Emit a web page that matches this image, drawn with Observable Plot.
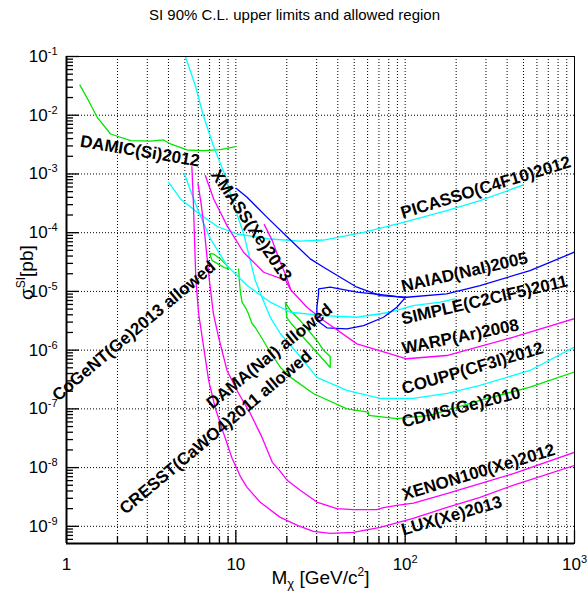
<!DOCTYPE html>
<html><head><meta charset="utf-8">
<script src="https://cdn.jsdelivr.net/npm/d3@7"></script>
<script src="https://cdn.jsdelivr.net/npm/@observablehq/plot@0.6"></script>
<style>body{margin:0;background:#fff;} #chart{width:588px;height:591px;}</style>
</head><body><div id="chart"></div>
<script>
// ---- data: [mass GeV/c^2, cross section pb] ----
const DAMIC = [[1.20,3.26e-2],[1.35,1.76e-2],[1.52,9.17e-3],[1.82,4.79e-3],[2.39,3.68e-3],[3.13,3.61e-3],[3.75,3.79e-3],[4.11,3.24e-3],[5.15,2.56e-3],[6.46,2.49e-3],[8.10,2.59e-3],[9.97,2.91e-3]];
const COUPP = [[5.04,9.9e-2],[5.77,3.18e-2],[6.43,9.8e-3],[7.37,3.03e-3],[8.56,1.01e-3],[9.67,3.12e-4],[11.07,1.0e-4],[12.18,3.35e-5],[13.03,1.53e-5],[14.28,7.86e-6],[16.0,3.59e-6],[18.3,1.92e-6],[24.0,7.8e-7],[30.1,3.43e-7],[45.3,2.06e-7],[71.2,1.51e-7],[111.5,1.51e-7],[177,1.83e-7],[277,2.51e-7],[546,4.51e-7],[1000,1.13e-6]];
const PICASSO = [[4.01,7.2e-4],[4.71,3.75e-4],[6.17,2.03e-4],[7.78,1.27e-4],[10.2,9.5e-5],[16.0,7.8e-5],[24.0,7.2e-5],[33.0,7.5e-5],[56.8,1.01e-4],[97.7,1.5e-4],[176,2.37e-4],[277,3.5e-4],[499,6.5e-4]];
const SIMPLE = [[4.97,1.01e-3],[5.54,4.27e-4],[6.17,1.95e-4],[7.07,7.9e-5],[8.87,2.75e-5],[11.65,1.26e-5],[16.0,6.55e-6],[21.0,4.42e-6],[33.0,3.88e-6],[51.9,3.63e-6],[81.6,4.42e-6],[111.5,5.75e-6],[161,6.55e-6],[197,7.47e-6]];
const NAIAD = [[10.03,5.7e-4],[11.65,4.0e-4],[15.3,1.82e-4],[20.0,8.6e-5],[27.5,3.58e-5],[33.0,2.58e-5],[51.9,1.18e-5],[71.2,8.5e-6],[102,7.96e-6],[176,9.1e-6],[277,1.26e-5],[546,2.26e-5],[1000,4.67e-5]];
const DAMA_REGION = [[30.8,1.105e-5],[36.1,1.18e-5],[51.9,9.7e-6],[81.6,8.5e-6],[100,7.77e-6],[89.3,5.37e-6],[74.5,3.63e-6],[56.8,2.62e-6],[45.3,2.31e-6],[34.5,2.40e-6],[30.1,3.19e-6],[30.1,5.37e-6],[30.8,9.1e-6],[30.8,1.105e-5]];
const COGENT_REGION = [[7.07,4.41e-5],[7.40,4.32e-5],[8.10,3.58e-5],[8.87,2.75e-5],[9.03,2.45e-5],[8.56,2.55e-5],[7.78,2.98e-5],[7.24,3.35e-5],[7.07,4.07e-5],[7.07,4.41e-5]];
const CDMS = [[10.39,2.42e-5],[10.49,1.53e-5],[10.63,9.94e-6],[10.88,6.55e-6],[11.38,5.37e-6],[11.85,4.2e-6],[12.46,2.84e-6],[13.03,2.43e-6],[14.28,1.58e-6],[16.0,9.12e-7],[18.3,5.13e-7],[21.0,3.47e-7],[28.8,1.81e-7],[45.3,1.0e-7],[60.8,8.8e-8],[60.8,7.73e-8],[89.3,6.8e-8],[140,7.73e-8],[277,1.39e-7],[546,2.34e-7],[1000,4.25e-7]];
const CRESST_REGION = [[19.6,6.46e-6],[21.0,4.72e-6],[24.0,3.19e-6],[26.3,2.33e-6],[30.1,1.46e-6],[33.0,9.9e-7],[36.1,7.8e-7],[36.1,5.07e-7],[30.1,9.1e-7],[25.1,1.64e-6],[21.5,2.73e-6],[20.0,3.59e-6],[19.6,6.46e-6]];
const WARP = [[6.61,9.35e-4],[7.40,3.75e-4],[8.87,1.32e-4],[11.1,4.64e-5],[14.6,2.12e-5],[18.3,1.67e-5],[19.6,1.59e-5],[21.0,1.08e-5],[26.3,5.37e-6],[33.0,3.19e-6],[51.9,1.28e-6],[81.6,8.67e-7],[102,7.13e-7],[176,8.1e-7],[436,1.66e-6],[1000,3.45e-6]];
const XMASS = [[14.73,1.37e-4],[16.42,7.33e-5],[18.3,3.13e-5],[19.86,1.79e-5],[21.0,1.12e-5]];
const LUX = [[5.50,1.33e-3],[5.61,3.51e-4],[5.73,4.95e-5],[5.81,1.53e-5],[6.03,4.2e-6],[6.46,1.11e-6],[6.91,3.05e-7],[7.57,1.02e-7],[8.47,3.82e-8],[9.50,1.44e-8],[10.63,7.1e-9],[11.65,4.61e-9],[13.95,2.56e-9],[18.3,1.42e-9],[23.1,1.04e-9],[28.7,8.2e-10],[36.1,7.6e-10],[49.4,7.9e-10],[71.2,9.6e-10],[111.5,1.37e-9],[177,2.1e-9],[277,3.11e-9],[433,4.99e-9],[1000,1.09e-8]];
const XENON100 = [[5.98,6.84e-4],[6.26,2.88e-4],[6.52,1.08e-4],[6.79,3.35e-5],[6.98,1.53e-5],[7.37,4.2e-6],[7.92,1.64e-6],[8.87,4.51e-7],[10.39,1.83e-7],[12.18,8.36e-8],[14.28,3.27e-8],[16.42,1.23e-8],[18.3,8.63e-9],[20.1,6.07e-9],[24.0,4.1e-9],[30.1,2.59e-9],[39.5,2.0e-9],[49.5,1.92e-9],[68.1,1.92e-9],[74.5,2.08e-9],[89.3,2.28e-9],[112,2.49e-9],[176,3.6e-9],[277,5.33e-9],[436,7.89e-9],[1000,1.82e-8]];

// labels: text and anchor (data coordinates)
const labelText = ["DAMIC(Si)2012","XMASS(Xe)2013","PICASSO(C4F10)2012","NAIAD(NaI)2005","SIMPLE(C2ClF5)2011","WARP(Ar)2008","COUPP(CF3I)2012","CDMS(Ge)2010","XENON100(Xe)2012","LUX(Xe)2013","CoGeNT(Ge)2013 allowed","DAMA(NaI) allowed","CRESST(CaWO4)2011 allowed"];
const labelMass = [2.715,12.34,299,224,294,212,250,214,271,188,2.50,15.8,7.6];
const labelSigma = [2.44e-3,1.32e-4,5.89e-4,2.12e-5,7.13e-6,1.70e-6,4.89e-7,1.06e-7,8.36e-9,1.51e-9,2.12e-6,7.9e-7,4.0e-8];
const labelAngle = [9.5,56,-17,-13,-13,-11.6,-16.4,-14.2,-16.7,-16,-40,-39,-40];

// axis ticks
const xMajor = [1,10,100,1000];
const xMinor = [2,3,4,5,6,7,8,9,20,30,40,50,60,70,80,90,200,300,400,500,600,700,800,900];
const yMajor = [1e-9,1e-8,1e-7,1e-6,1e-5,1e-4,1e-3,1e-2,1e-1];
const yMinor = [];
for (let e = -10; e <= -2; e++) for (let m = 2; m <= 9; m++) { const v = m * Math.pow(10, e); if (v > 5.1e-10 && v < 0.1) yMinor.push(v); }

// ---- styles ----
const GREEN = "#00e600", CYAN = "#00ffff", MAGENTA = "#ff00ff", BLUE = "#0000ff";
const curves = [
  [DAMIC, GREEN], [COGENT_REGION, GREEN], [CDMS, GREEN], [CRESST_REGION, GREEN],
  [PICASSO, CYAN], [SIMPLE, CYAN], [COUPP, CYAN],
  [NAIAD, BLUE], [DAMA_REGION, BLUE],
  [WARP, MAGENTA], [XMASS, MAGENTA], [LUX, MAGENTA], [XENON100, MAGENTA]
];

const W = 588, H = 591, ML = 66, MR = 14, MT = 56, MB = 48;
const FW = W - ML - MR, FH = H - MT - MB;
const FONT = "'Liberation Sans', Arial, Helvetica, sans-serif";
const XTITLE = "M\u03c7 [GeV/c2]";
const YTITLE = "\u03c3SI[pb]";

const fmtPow = d => { const e = Math.round(Math.log10(d)); return e === 0 ? "1" : e === 1 ? "10" : "10^" + e; };
const labels = labelText.map((t, i) => ({t, x: labelMass[i], y: labelSigma[i], a: labelAngle[i]}));

const svg = Plot.plot({
  width: W, height: H, marginLeft: ML, marginRight: MR, marginTop: MT, marginBottom: MB,
  style: {fontFamily: FONT, background: "white", color: "black", fontSize: "17px", overflow: "visible"},
  x: {type: "log", domain: [1, 1000], ticks: xMajor, tickFormat: fmtPow, tickSize: 0, tickPadding: 14, label: null},
  y: {type: "log", domain: [5.1e-10, 0.1], ticks: yMajor, tickFormat: fmtPow, tickSize: 0, tickPadding: 9, label: null},
  marks: [
    Plot.ruleX(xMinor.concat([10, 100]), {stroke: "#000", strokeWidth: 1, strokeDasharray: "1,2"}),
    Plot.ruleY(yMajor.slice(0, -1), {stroke: "#000", strokeWidth: 1, strokeDasharray: "1,2"}),
    ...curves.map(([pts, col]) => Plot.line(pts, {x: d => d[0], y: d => d[1], stroke: col, strokeWidth: 1.3, clip: true})),
    Plot.frame({stroke: "#000", strokeWidth: 1}),
    Plot.ruleX([1], {stroke: "#000", strokeWidth: 2}),
    Plot.ruleY([5.1e-10], {stroke: "#000", strokeWidth: 2}),
    Plot.ruleX(xMajor, {stroke: "#000", strokeWidth: 1.3, insetTop: FH - 13}),
    Plot.ruleX(xMinor, {stroke: "#000", strokeWidth: 1.3, insetTop: FH - 7}),
    Plot.ruleY(yMajor, {stroke: "#000", strokeWidth: 1.3, insetRight: FW - 13}),
    Plot.ruleY(yMinor, {stroke: "#000", strokeWidth: 1.3, insetRight: FW - 7}),
    Plot.text(labels, {x: "x", y: "y", text: "t", rotate: "a", fontSize: 17, fontWeight: "bold", fill: "#000", textAnchor: "middle", lineAnchor: "middle"}),
    Plot.text(["SI 90% C.L. upper limits and allowed region"], {frameAnchor: "top", dx: -26, dy: -37, lineAnchor: "bottom", fontSize: 15, fill: "#000"}),
    Plot.text([XTITLE], {frameAnchor: "bottom", dy: 40, lineAnchor: "bottom", fontSize: 19, fill: "#000"}),
    Plot.text([YTITLE], {frameAnchor: "left", dx: -34, rotate: -90, lineAnchor: "bottom", fontSize: 19, fill: "#000"})
  ]
});
document.getElementById("chart").appendChild(svg);

// rich text: superscripts / subscripts
function setRich(el, segs) {
  while (el.firstChild) el.removeChild(el.firstChild);
  let prev = 0;
  for (const s of segs) {
    const ts = document.createElementNS("http://www.w3.org/2000/svg", "tspan");
    if (s.fs) ts.setAttribute("font-size", s.fs);
    const dy = s.s - prev;
    if (dy !== 0) ts.setAttribute("dy", dy);
    prev = s.s;
    ts.textContent = s.t;
    el.appendChild(ts);
  }
}
svg.querySelectorAll("text").forEach(el => {
  const txt = el.textContent;
  const m = /^10\^(.+)$/.exec(txt);
  if (m) setRich(el, [{t: "10", s: 0}, {t: m[1], fs: 11, s: -7}]);
  else if (txt === XTITLE) setRich(el, [{t: "M", s: 0}, {t: "\u03c7", fs: 13, s: 4}, {t: " [GeV/c", s: 0}, {t: "2", fs: 12, s: -8}, {t: "]", s: 0}]);
  else if (txt === YTITLE) setRich(el, [{t: "\u03c3", s: 0}, {t: "SI", fs: 12, s: -8}, {t: "[pb]", s: 0}]);
});
</script>
</body></html>
